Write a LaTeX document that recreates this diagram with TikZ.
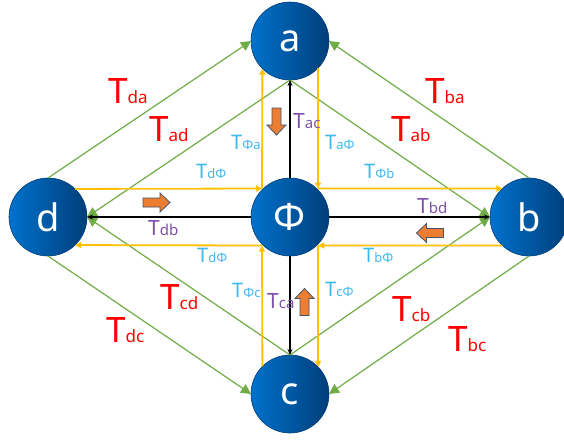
\documentclass[tikz,border=0pt]{standalone}
\usepackage{fontspec}
\setmainfont{Noto Sans}
\usetikzlibrary{arrows.meta,calc}
\definecolor{gr}{RGB}{112,173,71}
\definecolor{yl}{RGB}{255,192,0}
\definecolor{rd}{RGB}{255,0,0}
\definecolor{lb}{RGB}{60,185,240}
\definecolor{pu}{RGB}{128,80,170}
\definecolor{og}{RGB}{237,125,49}
\definecolor{ogb}{RGB}{68,84,106}
\definecolor{blA}{RGB}{0,114,204}
\definecolor{blB}{RGB}{0,62,122}
\newcommand\Tlab[4]{\textcolor{#1}{\fontsize{#2}{#2}\selectfont T\fontsize{#3}{#3}\selectfont #4}}
\newcommand\RT[1]{\Tlab{rd}{35}{17}{#1}}
\newcommand\BT[1]{\Tlab{lb}{20}{13}{#1}}
\newcommand\PT[1]{\Tlab{pu}{21}{15}{#1}}
\tikzset{
  vtx/.style={circle, minimum size=78pt, inner sep=0pt, outer sep=0pt,
    left color=blA, right color=blB, draw=blB, line width=0.6pt,
    text=white, font=\fontsize{38}{38}\selectfont},
  gline/.style={draw=gr, line width=1.2pt, -{Triangle[length=10pt,width=10pt]}},
  yline/.style={draw=yl, line width=1.8pt, -{Triangle[length=6pt,width=6pt]}},
  kline/.style={draw=black, line width=1.3pt, -{Stealth[length=6pt,width=5pt]}},
  lab/.style={anchor=base west, inner sep=0pt},
  blockarr/.pic={\filldraw[fill=og, draw=ogb, line width=0.8pt]
    (-13.5,-4.5) -- (3.5,-4.5) -- (3.5,-9.5) -- (13.5,0) -- (3.5,9.5) -- (3.5,4.5) -- (-13.5,4.5) -- cycle;}
}
\begin{document}
\begin{tikzpicture}[x=1pt,y=-1pt]
\useasboundingbox[fill=white] (0,0) rectangle (564,440);
% vertices
\node[vtx] (a) at (290,41) {a};
\node[vtx] (P) at (290,217) {Φ};
\node[vtx] (d) at (48,217) {d};
\node[vtx] (b) at (529,217) {b};
\node[vtx] (c) at (290,394) {c};
% corner coordinates around Phi
\coordinate (tl) at ($(P)+(-28,-28.5)$);
\coordinate (tr) at ($(P)+(28,-28.5)$);
\coordinate (br) at ($(P)+(28,28.5)$);
\coordinate (bl) at ($(P)+(-28,28.5)$);
% green
\draw[gline] (d.north) -- (a.west);
\draw[gline] (a.south) -- (d.east);
\draw[gline] (b.north) -- (a.east);
\draw[gline] (a.south) -- (b.west);
\draw[gline] (d.south) -- (c.west);
\draw[gline] (c.north) -- (d.east);
\draw[gline] (b.south) -- (c.east);
\draw[gline] (c.north) -- (b.west);
% yellow
\draw[yline] (d.46.9) -- (tl);
\draw[yline] (tl) -- (a.-135.9);
\draw[yline] (a.-44.1) -- (tr);
\draw[yline] (tr) -- (b.133.1);
\draw[yline] (b.-133.1) -- (br);
\draw[yline] (br) -- (c.44.1);
\draw[yline] (c.135.9) -- (bl);
\draw[yline] (bl) -- (d.-46.9);
% black
\draw[kline] (P.north) -- (a.south);
\draw[kline] (P.south) -- (c.north);
\draw[kline] (P.west) -- (d.east);
\draw[kline] (P.east) -- (b.west);
% orange block arrows
\pic[rotate=-90] at (276.5,121.5) {blockarr};
\pic at (156.5,202.5) {blockarr};
\pic[rotate=180] at (430,233) {blockarr};
\pic[rotate=90] at (304.5,302) {blockarr};
% red labels
\node[lab] (lda) at (108,103) {\RT{da}};
\node[lab] (lad) at (149,141) {\RT{ad}};
\node[lab] (lba) at (425,103) {\RT{ba}};
\node[lab] (lab) at (391,141) {\RT{ab}};
\node[lab] (lcd) at (160,309) {\RT{cd}};
\node[lab] (ldc) at (106,342) {\RT{dc}};
\node[lab] (lcb) at (392,321) {\RT{cb}};
\node[lab] (lbc) at (448,351) {\RT{bc}};
% blue labels
\node[lab] (lPa) at (231,149) {\BT{Φa}};
\node[lab] (laP) at (325,149) {\BT{aΦ}};
\node[lab] (ldP) at (196,178) {\BT{dΦ}};
\node[lab] (lPb) at (364,178) {\BT{Φb}};
\node[lab] (ldP2) at (197,262) {\BT{dΦ}};
\node[lab] (lbP) at (363,262) {\BT{bΦ}};
\node[lab] (lPc) at (232,297) {\BT{Φc}};
\node[lab] (lcP) at (325,296) {\BT{cΦ}};
% purple labels
\node[lab] (lac) at (293,128) {\PT{ac}};
\node[lab] (lbd) at (417,213) {\PT{bd}};
\node[lab] (ldb) at (148,235) {\PT{db}};
\node[lab] (lca) at (267,308) {\PT{ca}};
\end{tikzpicture}
\end{document}
